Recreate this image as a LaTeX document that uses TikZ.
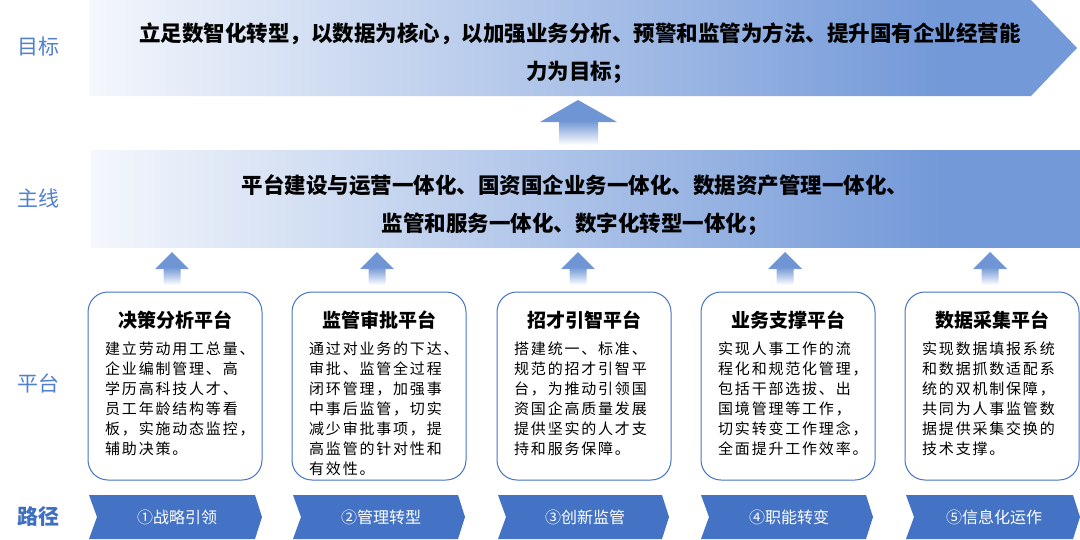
\documentclass[tikz,border=0pt]{standalone}
\usepackage{fontspec}
\setmainfont{Noto Sans CJK SC}
\newfontfamily\bodyfont[LetterSpace=12]{Noto Sans CJK SC}
\definecolor{lblue}{HTML}{F4F7FC}
\definecolor{dblue}{HTML}{7399D8}
\definecolor{obl}{HTML}{4472C4}
\definecolor{arrblue}{HTML}{6F95D5}
\definecolor{lab}{HTML}{4F80CF}
\definecolor{labd}{HTML}{3F6FC0}
\pgfdeclarehorizontalshading{bandshade}{100bp}{color(0bp)=(lblue); color(25bp)=(lblue); color(68bp)=(dblue); color(100bp)=(dblue)}
\pgfdeclareverticalshading{upshade}{100bp}{color(0bp)=(white); color(25bp)=(white); color(52bp)=(arrblue); color(100bp)=(arrblue)}
\begin{document}
\begin{tikzpicture}[x=1pt,y=-1pt,
  lbl/.style={font=\fontsize{21}{21}\selectfont, text=lab, inner sep=0},
  pbox/.style={draw=obl, line width=1pt, rounded corners=20pt, minimum width=174, minimum height=188, inner sep=0},
  ptitle/.style={font=\fontsize{19}{19}\selectfont\bfseries, inner sep=0},
  ptext/.style={font=\bodyfont\fontsize{15}{20}\selectfont, align=left, anchor=north west, inner sep=0},
  bandtext/.style={font=\fontsize{21.5}{38.5}\selectfont\bfseries, align=center, inner sep=0},
  chev/.style={fill=obl},
  chevtext/.style={font=\fontsize{16}{16}\selectfont, text=white, inner sep=0},
  uparrow/.style={shading=upshade}
]
\useasboundingbox (0,0) rectangle (1080,539);

% left labels
\node[lbl] (l1) at (38,47) {目标};
\node[lbl] (l2) at (38,198) {主线};
\node[lbl] (l3) at (38,383) {平台};
\node[lbl, text=labd, font=\fontsize{21}{21}\selectfont\bfseries] (l4) at (38,517) {路径};

% goal banner
\shade[shading=bandshade] (89,0) -- (1031,0) -- (1077,48) -- (1031,96) -- (89,96) -- cycle;
\node[bandtext] (goal) at (580,53) {立足数智化转型，以数据为核心，以加强业务分析、预警和监管为方法、提升国有企业经营能\\力为目标；};

% big up arrow
\shade[uparrow] (578,100) -- (617,122) -- (598,122) -- (598,145) -- (559,145) -- (559,122) -- (540,122) -- cycle;

% main line band
\shade[shading=bandshade] (91,150) rectangle (1080,247);
\node[bandtext] (main) at (575,205) {平台建设与运营一体化、国资国企业务一体化、数据资产管理一体化、\\监管和服务一体化、数字化转型一体化；};

% small up arrows
\foreach \cx in {172,377,578,785,990}{
  \shade[uparrow] (\cx,252) -- (\cx+17,269) -- (\cx+8.5,269) -- (\cx+8.5,285) -- (\cx-8.5,285) -- (\cx-8.5,269) -- (\cx-17,269) -- cycle;
}

% platform boxes
\node[pbox] (b1) at (175,386) {};
\node[pbox] (b2) at (379,386) {};
\node[pbox] (b3) at (584,386) {};
\node[pbox] (b4) at (788,386) {};
\node[pbox] (b5) at (992,386) {};

\node[ptitle] (t1) at (175,320) {决策分析平台};
\node[ptitle] (t2) at (379,320) {监管审批平台};
\node[ptitle] (t3) at (584,320) {招才引智平台};
\node[ptitle] (t4) at (788,320) {业务支撑平台};
\node[ptitle] (t5) at (992,320) {数据采集平台};

\node[ptext] (x1) at (105,342) {建立劳动用工总量、\\企业编制管理、高\\学历高科技人才、\\员工年龄结构等看\\板，实施动态监控，\\辅助决策。};
\node[ptext] (x2) at (309,342) {通过对业务的下达、\\审批、监管全过程\\闭环管理，加强事\\中事后监管，切实\\减少审批事项，提\\高监管的针对性和\\有效性。};
\node[ptext] (x3) at (514,342) {搭建统一、标准、\\规范的招才引智平\\台，为推动引领国\\资国企高质量发展\\提供坚实的人才支\\持和服务保障。};
\node[ptext] (x4) at (718,342) {实现人事工作的流\\程化和规范化管理，\\包括干部选拔、出\\国境管理等工作，\\切实转变工作理念，\\全面提升工作效率。};
\node[ptext] (x5) at (922,342) {实现数据填报系统\\和数据抓数适配系\\统的双机制保障，\\共同为人事监管数\\据提供采集交换的\\技术支撑。};

% path chevrons
\foreach \a/\b in {89/262,293/465,498/669,701/873,906/1080}{
  \fill[chev] (\a,495) -- (\b-7,495) -- (\b,517) -- (\b-7,539) -- (\a,539) -- (\a+8,517) -- cycle;
}
\node[chevtext] (p1) at (177,517) {①战略引领};
\node[chevtext] (p2) at (381,517) {②管理转型};
\node[chevtext] (p3) at (585,517) {③创新监管};
\node[chevtext] (p4) at (789,517) {④职能转变};
\node[chevtext] (p5) at (994,517) {⑤信息化运作};
\end{tikzpicture}
\end{document}
